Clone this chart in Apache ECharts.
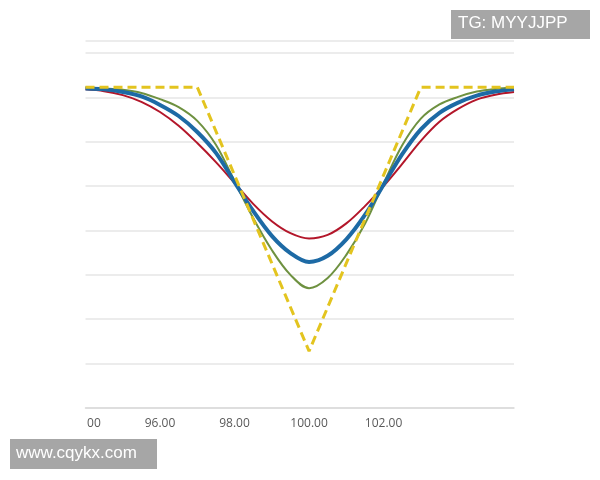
<!DOCTYPE html>
<html>
<head>
<meta charset="utf-8">
<script src="https://cdn.jsdelivr.net/npm/echarts@6/dist/echarts.min.js"></script>
<style>html,body{margin:0;padding:0;background:#fff;}#c{width:600px;height:480px;}</style>
</head>
<body>
<div id="c"></div>
<script>
// x positions (shared by the three smooth curves)
var xValues = [94, 94.5, 95, 95.5, 96, 96.5, 97, 97.5, 98, 98.5, 99, 99.5, 100,
               100.5, 101, 101.5, 102, 102.5, 103, 103.5, 104, 104.5, 105, 105.5];
var redValues   = [7.18, 7.14, 7.05, 6.90, 6.67, 6.36, 5.97, 5.54, 5.07, 4.60, 4.21, 3.94, 3.82,
                   3.90, 4.16, 4.55, 5.00, 5.50, 6.02, 6.45, 6.74, 6.95, 7.06, 7.12];
var blueValues  = [7.20, 7.18, 7.12, 7.02, 6.83, 6.58, 6.22, 5.75, 5.09, 4.44, 3.88, 3.49, 3.29,
                   3.43, 3.80, 4.35, 5.03, 5.72, 6.28, 6.65, 6.88, 7.04, 7.13, 7.18];
var greenValues = [7.22, 7.20, 7.17, 7.10, 6.96, 6.78, 6.47, 5.93, 5.11, 4.28, 3.56, 3.00, 2.70,
                   2.93, 3.45, 4.15, 5.06, 5.92, 6.52, 6.84, 7.01, 7.13, 7.19, 7.22];
// dashed reference profile (corner points)
var yellowX = [94, 97, 100, 103, 105.5];
var yellowValues = [7.23, 7.23, 1.28, 7.23, 7.23];
// axis tick labels shown
var xTickLabels = ['94.00', '96.00', '98.00', '100.00', '102.00'];

function pairs(xs, ys) { return xs.map(function (x, i) { return [x, ys[i]]; }); }

var chart = echarts.init(document.getElementById('c'), null, {renderer: 'canvas'});
chart.setOption({
  backgroundColor: '#ffffff',
  animation: false,
  grid: {left: 85.5, right: 86, top: 41, bottom: 72},
  xAxis: {
    type: 'value', min: 94, max: 105.5, interval: 2,
    axisLine: {show: true, lineStyle: {color: '#d9d9d9', width: 1.5}},
    axisTick: {show: false},
    splitLine: {show: false},
    axisLabel: {
      showMaxLabel: false, margin: 10,
      color: '#595959', fontSize: 12, fontFamily: 'Open Sans',
      formatter: function (v) {
        var s = v.toFixed(2);
        return xTickLabels.indexOf(s) >= 0 ? s : '';
      }
    }
  },
  yAxis: {
    type: 'value', min: 0, max: 8.27, interval: 1,
    axisLine: {show: false}, axisTick: {show: false}, axisLabel: {show: false},
    splitLine: {show: true, lineStyle: {color: '#e6e6e6', width: 1.5}}
  },
  series: [
    {type: 'line', data: pairs(xValues, greenValues), smooth: 0.35, showSymbol: false,
     lineStyle: {color: '#6e9140', width: 2}},
    {type: 'line', data: pairs(xValues, redValues), smooth: 0.35, showSymbol: false,
     lineStyle: {color: '#b3162a', width: 2}},
    {type: 'line', data: pairs(xValues, blueValues), smooth: 0.35, showSymbol: false,
     lineStyle: {color: '#1d6aa5', width: 4}},
    {type: 'line', data: pairs(yellowX, yellowValues), showSymbol: false,
     lineStyle: {color: '#e3c41f', width: 3, type: [9, 5]}}
  ],
  graphic: [
    {type: 'rect', left: 0, top: 412, shape: {width: 87, height: 24}, style: {fill: '#ffffff'}, z: 100},
    {type: 'rect', left: 451, top: 10, shape: {width: 139, height: 29}, style: {fill: '#a6a6a6'}, z: 100},
    {type: 'text', left: 458, top: 15, z: 101,
     style: {text: 'TG: MYYJJPP', fill: '#ffffff', font: '17px "Liberation Sans", Arial, sans-serif'}},
    {type: 'rect', left: 10, top: 439, shape: {width: 147, height: 30}, style: {fill: '#a6a6a6'}, z: 100},
    {type: 'text', left: 16, top: 445, z: 101,
     style: {text: 'www.cqykx.com', fill: '#ffffff', font: '17px "Liberation Sans", Arial, sans-serif'}}
  ]
});
</script>
</body>
</html>
